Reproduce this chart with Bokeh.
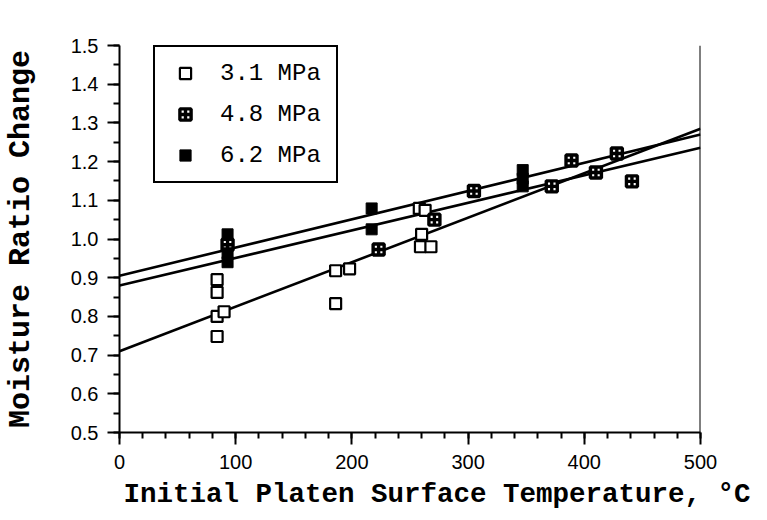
from bokeh.plotting import figure
from bokeh.models import (Range1d, Legend, LegendItem, Span, Title,
                          SingleIntervalTicker, PrintfTickFormatter)
from bokeh.embed import file_html
from bokeh.resources import INLINE

# ---- data ----
x31 = [84, 84, 84, 90, 84, 186, 198, 186, 258, 263, 260, 259, 268]
y31 = [0.895, 0.862, 0.80, 0.812, 0.748, 0.918, 0.923, 0.833, 1.079, 1.074, 1.012, 0.98, 0.98]

x48 = [93, 223, 271, 305, 372, 389, 410, 428, 441]
y48 = [0.985, 0.973, 1.05, 1.124, 1.136, 1.203, 1.172, 1.221, 1.149]

x62 = [93, 93, 93, 217, 217, 347, 347, 347]
y62 = [1.012, 0.963, 0.94, 1.079, 1.025, 1.178, 1.156, 1.136]

fit_x = [0, 500]
fit31 = [0.71, 1.285]
fit48 = [0.88, 1.236]
fit62 = [0.905, 1.27]

labels = ["3.1 MPa", "4.8 MPa", "6.2 MPa"]
x_title = "Initial Platen Surface Temperature, \u00b0C"
y_title = "Moisture Ratio Change"

MONO = "Liberation Mono"
SANS = "Liberation Sans"

p = figure(width=759, height=516, output_backend="svg", toolbar_location=None,
           x_range=Range1d(0, 500), y_range=Range1d(0.5, 1.5),
           min_border_left=118, min_border_right=59, min_border_top=45,
           min_border_bottom=84)
p.outline_line_color = None
p.xgrid.visible = False
p.ygrid.visible = False
p.background_fill_color = "white"
p.border_fill_color = "white"

# axes
p.xaxis.ticker = SingleIntervalTicker(interval=100, num_minor_ticks=5)
p.yaxis.ticker = SingleIntervalTicker(interval=0.1, num_minor_ticks=2)
p.yaxis.formatter = PrintfTickFormatter(format="%.1f")
for ax in (p.xaxis[0], p.yaxis[0]):
    ax.axis_line_width = 2
    ax.axis_line_color = "black"
    ax.major_tick_line_width = 2
    ax.minor_tick_line_width = 2
    ax.major_tick_line_color = "black"
    ax.minor_tick_line_color = "black"
    ax.major_tick_out = 12
    ax.major_tick_in = 0
    ax.minor_tick_out = 6
    ax.minor_tick_in = 0
    ax.major_label_text_font = SANS
    ax.major_label_text_font_size = "20px"
    ax.major_label_text_color = "black"
p.xaxis.major_label_standoff = 10
p.yaxis.major_label_standoff = 9

p.yaxis.axis_label = y_title
p.yaxis.axis_label_text_font = MONO
p.yaxis.axis_label_text_font_size = "30px"
p.yaxis.axis_label_text_font_style = "bold"
p.yaxis.axis_label_text_color = "black"
p.yaxis.axis_label_standoff = 30

p.add_layout(Title(text=x_title, align="left", offset=4, standoff=10,
                   text_font=MONO, text_font_size="27.5px",
                   text_font_style="bold", text_color="black"), "below")

# right border line
p.add_layout(Span(location=500, dimension="height", line_color="black", line_width=2))

# fit lines
for fy in (fit31, fit48, fit62):
    p.line(fit_x, fy, line_color="black", line_width=2.6)

r31 = p.scatter(x31, y31, marker="square", size=11, fill_color="white",
                line_color="black", line_width=2.2)
r48 = p.scatter(x48, y48, marker="square_cross", size=11, fill_color="white",
                line_color="black", line_width=3.4)
r62 = p.scatter(x62, y62, marker="square", size=11, fill_color="black",
                line_color="black", line_width=1)

legend = Legend(items=[LegendItem(label=labels[0], renderers=[r31]),
                       LegendItem(label=labels[1], renderers=[r48]),
                       LegendItem(label=labels[2], renderers=[r62])],
                location=(34, 249))
legend.border_line_color = "black"
legend.border_line_width = 2
legend.border_line_alpha = 1
legend.background_fill_color = "white"
legend.background_fill_alpha = 1
legend.padding = 12
legend.spacing = 13
legend.glyph_height = 28
legend.glyph_width = 36
legend.label_height = 28
legend.label_standoff = 17
legend.label_width = 104
legend.label_text_font = MONO
legend.label_text_font_size = "24px"
legend.label_text_color = "black"
legend.margin = 0
p.add_layout(legend, "center")

open("out.html", "w").write(file_html(p, INLINE))
